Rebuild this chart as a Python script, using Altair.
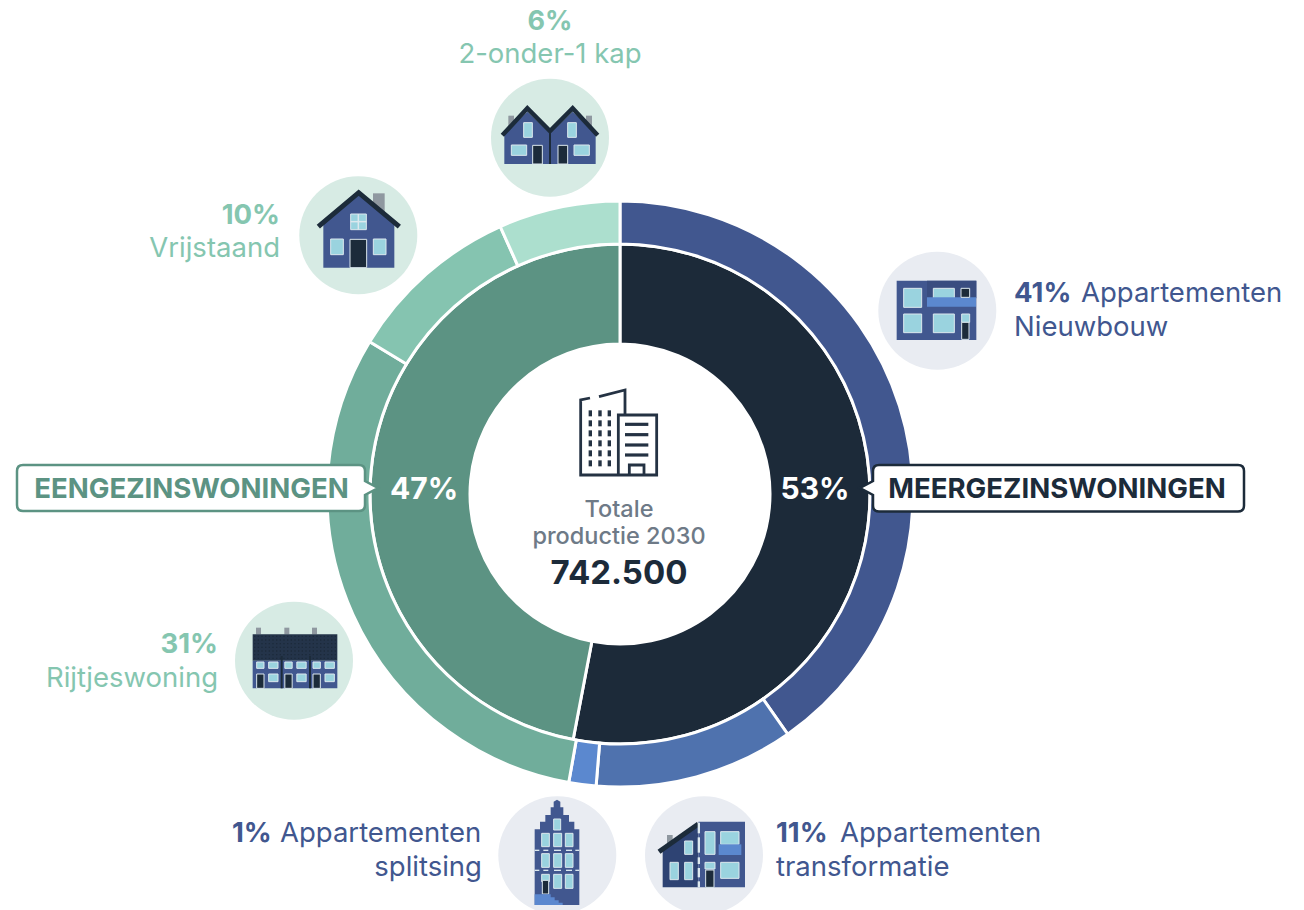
import altair as alt
import pandas as pd

# ---------- chart values ----------
outer_names = ["Appartementen Nieuwbouw", "Appartementen transformatie", "Appartementen splitsing",
               "Rijtjeswoning", "Vrijstaand", "2-onder-1 kap"]
outer_shares = [40.3, 11.0, 1.5, 30.9, 9.6, 6.7]   # arc sizes as drawn in the picture
outer_colors = ["#41578F", "#4F72AE", "#5B88CF", "#70AD9B", "#85C4B0", "#ACDFCE"]
inner_names = ["Meergezinswoningen", "Eengezinswoningen"]
inner_shares = [53, 47]
inner_colors = ["#1C2A39", "#5C9383"]

CX, CY = 620, 494
FONT = "Inter"
W, H = 1288, 902
GREEN_T, BLUE_T, DARK, GREY_T = "#85C6B0", "#41578F", "#1C2B3A", "#6E7A87"
BODY, WIN, LITE, BAL, CHIM = "#41578F", "#9AD3DF", "#DCE8EE", "#5B88CF", "#8F98A0"

x_scale = alt.Scale(domain=[8, 8 + W], nice=False, zero=False)
y_scale = alt.Scale(domain=[8 + H, 8], nice=False, zero=False)
X = lambda f="x": alt.X(f"{f}:Q", scale=x_scale, axis=None)
Y = lambda f="y": alt.Y(f"{f}:Q", scale=y_scale, axis=None)


def ring(names, shares, colors, r0, r1):
    df = pd.DataFrame({"name": names, "share": shares, "col": colors, "i": range(len(names))})
    return alt.Chart(df).mark_arc(innerRadius=r0, outerRadius=r1, stroke="white", strokeWidth=3).encode(
        theta=alt.Theta("share:Q", stack=True, scale=alt.Scale(domain=[0, 100])),
        color=alt.Color("col:N", scale=None),
        order=alt.Order("i:Q"),
        x=alt.value(CX - 8), y=alt.value(CY - 8),
    )


# ---------- decorative drawing helpers (paths in picture pixels) ----------
PC, PS = (652, 455), 1000.0
rows = []


def fmt(p):
    return f"{(p[0] - PC[0]) / PS:.5f},{(p[1] - PC[1]) / PS:.5f}"


def add(d, fill="none", stroke="none", sw=0):
    rows.append(dict(x=PC[0], y=PC[1], path=d, fill=fill, stroke=stroke, sw=sw))


class Crop:
    def __init__(self, ox, oy, k=3.0):
        self.ox, self.oy, self.k = ox, oy, k

    def t(self, p):
        return (self.ox + p[0] / self.k, self.oy + p[1] / self.k)

    def poly(self, pts, fill, stroke="none", sw=0, close=True):
        d = "M" + " L".join(fmt(self.t(p)) for p in pts) + (" Z" if close else "")
        add(d, fill, stroke, sw)

    def rect(self, x0, y0, x1, y1, fill, stroke="none", sw=0):
        self.poly([(x0, y0), (x1, y0), (x1, y1), (x0, y1)], fill, stroke, sw)

    def line(self, pts, stroke, sw):
        self.poly(pts, "none", stroke, sw, close=False)


def win(c, x0, y0, x1, y1):
    c.rect(x0, y0, x1, y1, WIN, LITE, 1)


def door(c, x0, y0, x1, y1):
    c.rect(x0, y0, x1, y1, DARK, LITE, 1)


def callout(x0, y0, x1, y1, tip, base0, base1, col, side):
    r = 6
    q = lambda a, b, e, f: f"Q{fmt((a, b))} {fmt((e, f))}"
    parts = ["M" + fmt((x0 + r, y0)), "L" + fmt((x1 - r, y0)), q(x1, y0, x1, y0 + r)]
    if side == "right":
        parts += ["L" + fmt((x1, base0)), "L" + fmt((tip, (base0 + base1) / 2)), "L" + fmt((x1, base1))]
    parts += ["L" + fmt((x1, y1 - r)), q(x1, y1, x1 - r, y1), "L" + fmt((x0 + r, y1)), q(x0, y1, x0, y1 - r)]
    if side == "left":
        parts += ["L" + fmt((x0, base1)), "L" + fmt((tip, (base0 + base1) / 2)), "L" + fmt((x0, base0))]
    parts += ["L" + fmt((x0, y0 + r)), q(x0, y0, x0 + r, y0), "Z"]
    add(" ".join(parts), "white", col, 2.5)


# callouts
callout(873, 465, 1244, 511.5, 860, 481, 495, DARK, "left")
callout(17, 465, 365, 511, 378, 481, 495, "#5C9383", "right")

# --- 2-onder-1 kap + vrijstaand
c = Crop(300, 0)
c.rect(625, 347, 642, 378, CHIM); c.rect(858, 347, 876, 378, CHIM)
c.poly([(613, 492), (613, 400), (682, 335), (750, 400), (818, 335), (887, 400), (887, 492)], BODY)
c.line([(607, 406), (682, 325), (750, 393), (818, 325), (893, 406)], DARK, 4.5)
c.line([(750, 393), (750, 492)], DARK, 2)
win(c, 671, 368, 697, 412); win(c, 803, 368, 829, 412); win(c, 634, 435, 680, 466); win(c, 822, 435, 868, 466)
door(c, 698, 436, 727, 492); door(c, 774, 436, 803, 492)

c.rect(219, 580, 254, 640, CHIM)
c.poly([(70, 803), (70, 665), (176, 585), (283, 665), (283, 803)], BODY)
c.line([(55, 680), (176, 578), (298, 680)], DARK, 5)
win(c, 152, 642, 199, 689); c.line([(175, 642), (175, 689)], LITE, 1.5); c.line([(152, 665), (199, 665)], LITE, 1.5)
win(c, 92, 717, 130, 764); win(c, 220, 717, 258, 764); door(c, 150, 718, 200, 803)

# --- nieuwbouw
c = Crop(860, 240)
c.rect(110, 122, 349, 300, BODY); c.rect(201, 122, 349, 175, "#394D80")
for b in [(131, 145, 185, 202), (131, 222, 185, 278), (220, 145, 283, 175), (220, 222, 283, 278), (305, 222, 329, 247)]:
    win(c, *b)
c.rect(201, 172, 348, 200, BAL)
door(c, 303, 145, 329, 172); door(c, 305, 247, 327, 298)

# --- splitsing + transformatie
c = Crop(480, 700)
c.poly([(164, 615), (164, 388), (180, 388), (180, 365), (196, 365), (196, 345), (212, 345), (212, 322), (221, 322),
        (221, 305), (231, 299), (241, 305), (241, 322), (250, 322), (250, 345), (267, 345), (267, 365), (283, 365),
        (283, 388), (298, 388), (298, 615)], BODY)
win(c, 221, 357, 242, 390)
for y0, y1 in [(400, 440), (461, 502)]:
    for x0, x1 in [(185, 208), (221, 245), (256, 279)]:
        win(c, x0, y0, x1, y1)
win(c, 185, 523, 208, 545); win(c, 221, 523, 245, 565); win(c, 256, 523, 279, 565)
for y in (451, 511):
    for x0, x1 in [(164, 178), (190, 205), (222, 243), (258, 276), (286, 298)]:
        c.rect(x0, y - 2, x1, y + 2, LITE)
door(c, 187, 541, 206, 582)
c.poly([(164, 615), (164, 583), (212, 583), (212, 592), (224, 592), (224, 601), (236, 601), (236, 608), (248, 608), (248, 615)], BAL)

c.rect(561, 405, 578, 438, CHIM)
c.poly([(548, 562), (548, 453), (655, 375), (655, 562)], "#2E4373")
c.rect(655, 365, 795, 562, BODY)
c.line([(537, 455), (655, 372)], DARK, 5)
for y0, y1 in [(368, 400), (412, 458), (472, 492), (504, 532), (544, 562)]:
    c.rect(653, y0, 660, y1, LITE)
for b in [(675, 395, 705, 463), (722, 395, 777, 433), (722, 487, 777, 535), (675, 487, 705, 507),
          (614, 423, 638, 463), (570, 487, 595, 539), (614, 487, 638, 539)]:
    win(c, *b)
c.rect(716, 433, 784, 465, BAL)
door(c, 677, 510, 702, 562)

# --- rijtjes
c = Crop(0, 450)
for x0 in (768, 853, 936):
    c.rect(x0, 533, x0 + 15, 553, CHIM)
c.rect(758, 553, 1012, 632, "#24344A")
for iy in range(7):
    for ix in range(23):
        c.rect(762 + ix * 11, 557 + iy * 11, 766 + ix * 11, 561 + iy * 11, "#1C2A3B")
c.rect(758, 632, 1012, 715, BODY)
c.rect(842, 618, 848, 715, DARK); c.rect(927, 618, 933, 715, DARK)
for dx in (0, 84.5, 169):
    win(c, 770 + dx, 636, 792 + dx, 655); win(c, 806 + dx, 636, 834 + dx, 655); win(c, 806 + dx, 672, 834 + dx, 695)
    door(c, 770 + dx, 672, 792 + dx, 715)

# --- centre building
c = Crop(500, 370)
B = "#243243"
c.line([(270, 84), (242, 90), (242, 315), (470, 315), (470, 135), (355, 135), (355, 315)], B, 2.8)
c.line([(297, 80), (375, 60), (375, 135)], B, 2.8)
for x in (271, 300, 328):
    for y in (130, 160, 190, 220, 250, 280):
        c.line([(x, y - 9), (x, y + 9)], B, 3.4)
for y in (163, 194, 225, 255):
    c.line([(375, y), (445, y)], B, 3.2)
c.line([(388, 315), (388, 285), (432, 285), (432, 315)], B, 2.8)

shapes = pd.DataFrame(rows)
paths = alt.Chart(shapes).mark_point(filled=True, opacity=1, size=4 * PS * PS, strokeJoin="miter").encode(
    x=X(), y=Y(),
    shape=alt.Shape("path:N", scale=None),
    fill=alt.Fill("fill:N", scale=None),
    stroke=alt.Stroke("stroke:N", scale=None),
    strokeWidth=alt.StrokeWidth("sw:Q", scale=None),
)

# ---------- icon discs ----------
G_D, B_D = "#D7EBE4", "#E9ECF2"
disc_x = [550, 358.3, 937.3, 294, 557.3, 704]
disc_y = [137.7, 235.3, 310.7, 660.7, 855.3, 855.3]
disc_c = [G_D, G_D, B_D, G_D, B_D, B_D]
discs = alt.Chart(pd.DataFrame({"x": disc_x, "y": disc_y, "c": disc_c})).mark_circle(size=118 ** 2, opacity=1).encode(
    x=X(), y=Y(), color=alt.Color("c:N", scale=None))

# ---------- text ----------
T = [
    ("6%", 550, 30, 27, "bold", "center", GREEN_T),
    ("2-onder-1 kap", 550, 63, 27.5, "normal", "center", GREEN_T),
    ("10%", 280, 224, 27.5, "bold", "right", GREEN_T),
    ("Vrijstaand", 280, 257, 27.5, "normal", "right", GREEN_T),
    ("41%", 1014, 302, 27.5, "bold", "left", BLUE_T),
    ("Appartementen", 1081, 302, 27.5, "normal", "left", BLUE_T),
    ("Nieuwbouw", 1014, 336, 27.5, "normal", "left", BLUE_T),
    ("31%", 218, 653, 27.5, "bold", "right", GREEN_T),
    ("Rijtjeswoning", 218, 687, 27.5, "normal", "right", GREEN_T),
    ("1%", 232, 842, 27.5, "bold", "left", BLUE_T),
    ("Appartementen", 280, 842, 27.5, "normal", "left", BLUE_T),
    ("splitsing", 482, 876, 27.5, "normal", "right", BLUE_T),
    ("11%", 776, 842, 27.5, "bold", "left", BLUE_T),
    ("Appartementen", 840, 842, 27.5, "normal", "left", BLUE_T),
    ("transformatie", 776, 876, 27.5, "normal", "left", BLUE_T),
    ("47%", 424, 499, 30, "bold", "center", "#FFFFFF"),
    ("53%", 815, 499, 30, "bold", "center", "#FFFFFF"),
    ("MEERGEZINSWONINGEN", 1057, 498, 27.6, "bold", "center", DARK),
    ("EENGEZINSWONINGEN", 191.5, 498, 27.6, "bold", "center", "#5C9383"),
    ("Totale", 619, 517, 23.5, "500", "center", GREY_T),
    ("productie 2030", 619, 544, 23.5, "500", "center", GREY_T),
    ("742.500", 619, 584, 33, "bold", "center", DARK),
]
tdf = pd.DataFrame(T, columns=["t", "x", "y", "s", "w", "a", "c"])
text_layers = []
for (w, a), g in tdf.groupby(["w", "a"]):
    text_layers.append(
        alt.Chart(g).mark_text(font=FONT, fontWeight=int(w) if w.isdigit() else w, align=a, baseline="alphabetic").encode(
            x=X(), y=Y(), text="t:N", size=alt.Size("s:Q", scale=None), color=alt.Color("c:N", scale=None))
    )

chart = alt.layer(
    ring(inner_names, inner_shares, inner_colors, 150, 250),
    ring(outer_names, outer_shares, outer_colors, 250, 293),
    discs, paths, *text_layers,
).properties(width=W, height=H, padding=0, autosize=alt.AutoSizeParams(type="none"), background="white"
).configure_view(stroke=None)

chart.save("out.html", embed_options={"renderer": "svg", "actions": False})
